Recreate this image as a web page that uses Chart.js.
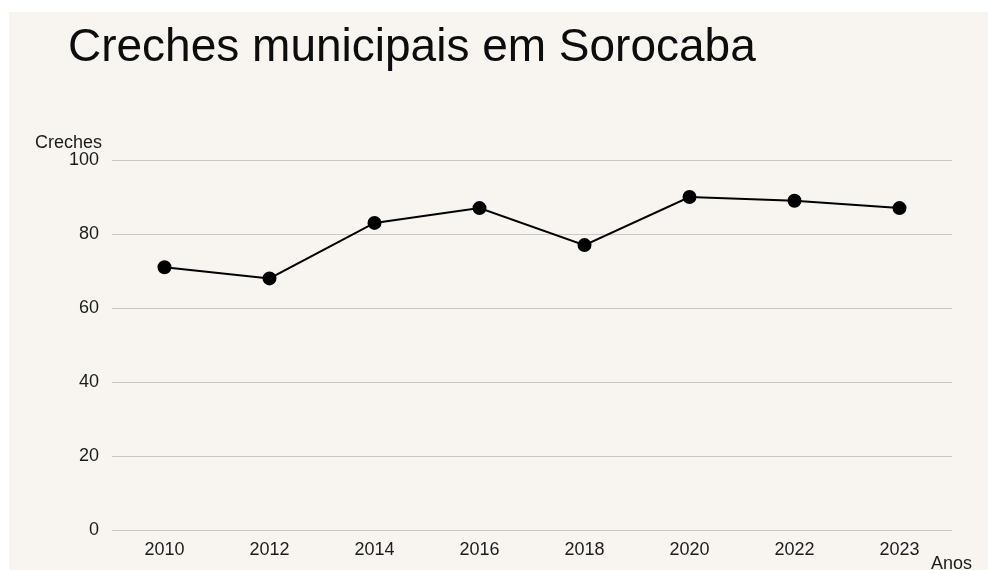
<!DOCTYPE html>
<html>
<head>
<meta charset="utf-8">
<script src="https://cdn.jsdelivr.net/npm/chart.js@4.4.1/dist/chart.umd.min.js"></script>
<style>
  html, body { margin: 0; padding: 0; background: #ffffff; }
  #card { position: absolute; left: 9px; top: 12px; width: 979px; height: 558px; background: #f8f5f1; }
  #chart { position: absolute; left: 0; top: 0; }
</style>
</head>
<body>
<div id="card"></div>
<canvas id="chart" width="988" height="570"></canvas>
<script>
// Creches municipais em Sorocaba
const years = ['2010', '2012', '2014', '2016', '2018', '2020', '2022', '2023'];
const creches = [71, 68, 83, 87, 77, 90, 89, 87];
const yTicks = [0, 20, 40, 60, 80, 100];

const FONT = '"Liberation Sans", Arial, Helvetica, sans-serif';
const INK = '#1c1c1c';

// draws the title and the two axis captions
const extraText = {
    id: 'extraText',
    afterDraw(chart) {
        const c = chart.ctx;
        const area = chart.chartArea;
        c.save();
        c.fillStyle = '#0d0d0d';
        c.textBaseline = 'alphabetic';
        c.textAlign = 'left';
        c.font = '46px ' + FONT;
        c.fillText('Creches municipais em Sorocaba', 68, 61);

        c.fillStyle = INK;
        c.font = '18px ' + FONT;
        c.textAlign = 'right';
        c.fillText('Creches', 102, 148);
        c.fillText('Anos', area.right + 20, 569);
        c.restore();
    }
};

const ctx = document.getElementById('chart').getContext('2d');
const chart = new Chart(ctx, {
    type: 'line',
    data: {
        labels: years,
        datasets: [{
            label: 'Creches',
            data: creches,
            borderColor: '#000000',
            backgroundColor: '#000000',
            borderWidth: 2,
            pointRadius: 6,
            pointHoverRadius: 6,
            pointBackgroundColor: '#000000',
            tension: 0
        }]
    },
    options: {
        responsive: false,
        animation: false,
        layout: {
            padding: { top: 160, right: 36, bottom: 0, left: 0 }
        },
        plugins: {
            legend: { display: false },
            tooltip: { enabled: false }
        },
        scales: {
            x: {
                offset: true,
                grid: { display: false, drawTicks: false },
                border: { display: false },
                ticks: {
                    color: INK,
                    font: { family: FONT, size: 18 },
                    padding: 9,
                    maxRotation: 0
                },
                afterFit(scale) { scale.height = 40; }
            },
            y: {
                min: 0,
                max: 100,
                afterBuildTicks(scale) { scale.ticks = yTicks.map(v => ({ value: v })); },
                grid: { color: '#cdc8c2', lineWidth: 1, drawTicks: false },
                border: { display: false },
                ticks: {
                    color: INK,
                    font: { family: FONT, size: 18 },
                    padding: 13
                },
                afterFit(scale) { scale.width = 112; }
            }
        }
    },
    plugins: [extraText]
});
</script>
</body>
</html>
